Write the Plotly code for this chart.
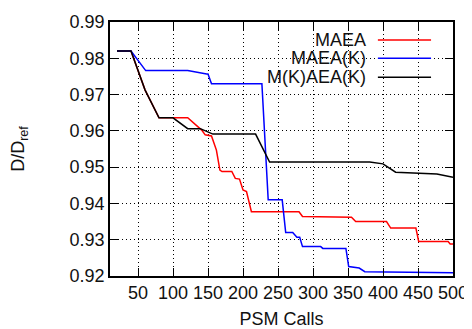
import plotly.graph_objects as go

# ---- data ----
maea_x = [20, 40, 60, 80, 121, 141, 146, 155, 162, 167, 170, 184, 189, 195, 200, 205, 212,
          280, 285, 355, 361, 405, 411, 447, 451, 493, 496, 500]
maea_y = [0.982, 0.982, 0.9713, 0.9636, 0.9636, 0.9602, 0.9589, 0.9586, 0.9547, 0.9492, 0.9488,
          0.9488, 0.9469, 0.9467, 0.9437, 0.9433, 0.9377,
          0.9377, 0.9364, 0.9362, 0.9350, 0.9350, 0.9332, 0.9332, 0.9295, 0.9295, 0.9288, 0.9288]

maeak_x = [20, 40, 61, 121, 148, 150, 155, 227, 236, 256, 261, 271, 277, 281, 285, 311, 314,
           347, 351, 366, 374, 500]
maeak_y = [0.982, 0.982, 0.9766, 0.9766, 0.9757, 0.9757, 0.973, 0.973, 0.941, 0.941, 0.932,
           0.932, 0.9307, 0.9307, 0.9281, 0.9281, 0.9276, 0.9276, 0.9226, 0.9222, 0.9212, 0.9209]

mkaeak_x = [20, 40, 60, 80, 100, 121, 139, 157, 218, 238, 381, 400, 418, 448, 477, 500]
mkaeak_y = [0.982, 0.982, 0.9713, 0.9636, 0.9636, 0.9606, 0.9606, 0.9591, 0.9591, 0.9514,
            0.9514, 0.9509, 0.9486, 0.9483, 0.9481, 0.9472]

series_names = ["MAEA", "MAEA(K)", "M(K)AEA(K)"]
series_colors = ["#ff0000", "#0000ff", "#000000"]
x_ticks = [50, 100, 150, 200, 250, 300, 350, 400, 450, 500]
y_ticks = [0.92, 0.93, 0.94, 0.95, 0.96, 0.97, 0.98, 0.99]

FONT = "Liberation Sans, Arial, sans-serif"
NARROW = "Liberation Sans Narrow, Arial Narrow, Liberation Sans, sans-serif"
TXT = "#111111"

fig = go.Figure()
for xs, ys, name, col in zip([maea_x, maeak_x, mkaeak_x], [maea_y, maeak_y, mkaeak_y],
                             series_names, series_colors):
    fig.add_trace(go.Scatter(x=xs, y=ys, mode="lines", name=name,
                             line=dict(color=col, width=1.5), showlegend=False))

# opaque key box (between grid and traces)
fig.add_shape(type="rect", xref="paper", yref="paper", x0=0.423, x1=0.98, y0=0.748, y1=1.0,
              fillcolor="white", line=dict(width=0), layer="between")

key_rows = [0.929, 0.857, 0.782]
for name, col, yy in zip(series_names, series_colors, key_rows):
    fig.add_annotation(xref="paper", yref="paper", x=0.748, y=yy, text=name, showarrow=False,
                       xanchor="right", yanchor="middle", borderpad=0,
                       font=dict(family=FONT, size=18, color=TXT))
    fig.add_shape(type="line", xref="paper", yref="paper", x0=0.781, x1=0.936, y0=yy, y1=yy,
                  line=dict(color=col, width=1.5))

axis_common = dict(showline=True, linecolor="black", linewidth=1.5, mirror="allticks",
                   ticks="inside", ticklen=8, tickwidth=1, tickcolor="black",
                   showgrid=True, gridcolor="black", gridwidth=1, griddash="1px,3px",
                   zeroline=False)

fig.update_xaxes(range=[10, 500], tickvals=x_ticks, ticktext=[str(v) for v in x_ticks],
                 tickfont=dict(family=NARROW, size=18, color=TXT),
                 title=dict(text="PSM Calls", font=dict(family=FONT, size=18, color=TXT),
                            standoff=12),
                 **axis_common)
fig.update_yaxes(range=[0.92, 0.99], tickvals=y_ticks, ticktext=[f"{v:.2f}" for v in y_ticks],
                 tickfont=dict(family=FONT, size=18, color=TXT),
                 title=dict(text="D/D<sub>ref</sub>", font=dict(family=FONT, size=18, color=TXT),
                            standoff=40),
                 **axis_common)

# page body has an 8px margin, so the figure is shrunk by 8px and margins shifted
fig.update_layout(width=464, height=321, margin=dict(l=102, r=19, t=14, b=53, autoexpand=False),
                  paper_bgcolor="white", plot_bgcolor="white",
                  font=dict(family=FONT, size=18, color=TXT))

fig.write_html("out.html")
